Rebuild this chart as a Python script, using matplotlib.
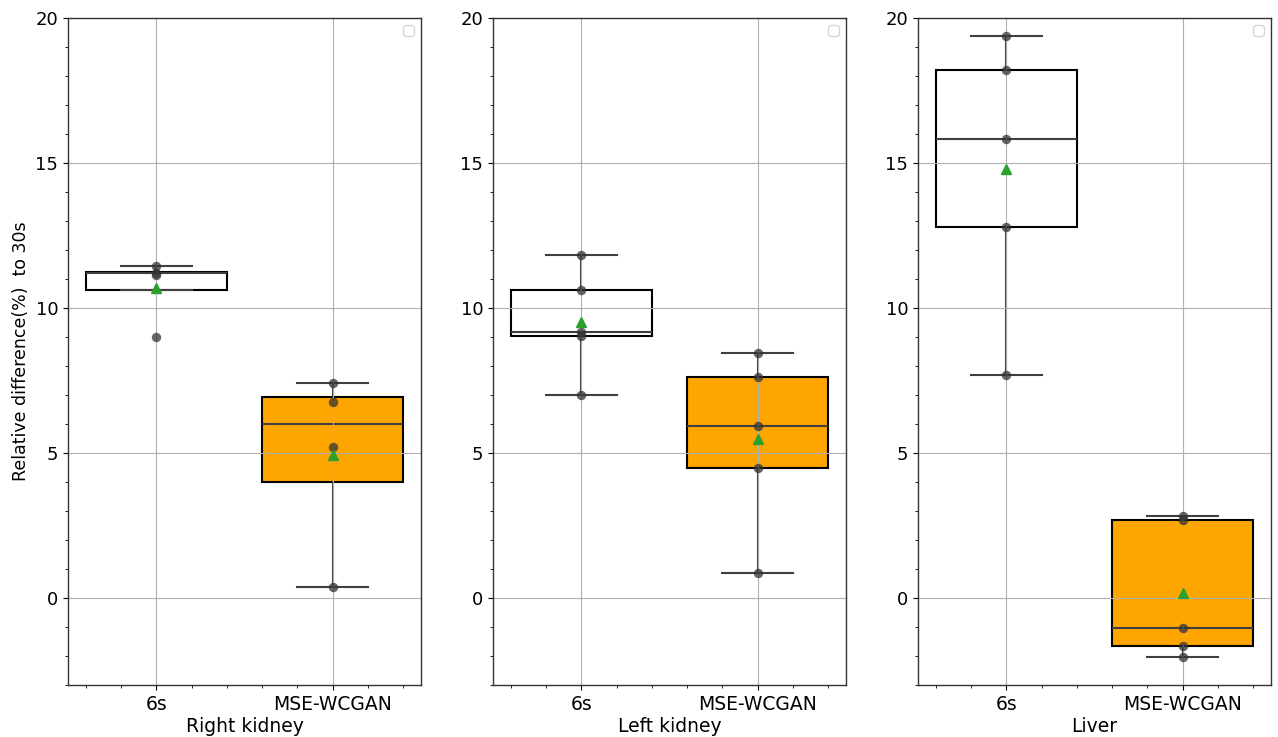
import numpy as np
import matplotlib
matplotlib.use("Agg")
import matplotlib.pyplot as plt
from matplotlib.ticker import AutoMinorLocator

# panels and groups
organs = ["Right kidney", "Left kidney", "Liver"]
methods = ["6s", "MSE-WCGAN"]

# box statistics per panel, [6s, MSE-WCGAN]
whis_lo = [[10.62, 0.37], [6.99, 0.85], [7.69, -2.02]]
q1 = [[10.62, 4.01], [9.02, 4.47], [12.79, -1.64]]
med = [[11.20, 5.99], [9.17, 5.92], [15.82, -1.05]]
q3 = [[11.24, 6.92], [10.63, 7.63], [18.20, 2.69]]
whis_hi = [[11.45, 7.41], [11.84, 8.46], [19.38, 2.82]]
means = [[10.70, 4.94], [9.53, 5.47], [14.78, 0.16]]

# individual points (strip)
pts_6s = [[9.00, 11.15, 11.22, 11.45],
          [6.99, 9.02, 9.17, 10.63, 11.84],
          [7.69, 12.79, 15.82, 18.20, 19.38]]
pts_gan = [[0.37, 5.22, 6.75, 7.41],
           [0.85, 4.47, 5.92, 7.63, 8.46],
           [-2.02, -1.64, -1.05, 2.69, 2.82]]

box_colors = ["white", "orange"]

fig = plt.figure(figsize=(12.78, 7.37), dpi=100)
lefts = [68, 493, 918]

for i, organ in enumerate(organs):
    ax = fig.add_axes([lefts[i] / 1278, 52 / 737, 353 / 1278, 667 / 737])
    stats = []
    for j, m in enumerate(methods):
        stats.append(dict(label=m, whislo=whis_lo[i][j], q1=q1[i][j], med=med[i][j],
                          q3=q3[i][j], whishi=whis_hi[i][j], mean=means[i][j], fliers=[]))
    bp = ax.bxp(stats, positions=[0, 1], widths=0.8, patch_artist=True,
                showmeans=True, showfliers=False,
                boxprops=dict(edgecolor="black", linewidth=1.5),
                whiskerprops=dict(color="#3f3f3f", linewidth=1.5),
                capprops=dict(color="#3f3f3f", linewidth=1.5),
                medianprops=dict(color="#3f3f3f", linewidth=1.5),
                meanprops=dict(marker="^", markerfacecolor="#2ca02c",
                               markeredgecolor="#2ca02c", markersize=7),
                capwidths=0.4)
    for patch, c in zip(bp["boxes"], box_colors):
        patch.set_facecolor(c)
    for j, pts in enumerate([pts_6s[i], pts_gan[i]]):
        ax.scatter(np.full(len(pts), j), pts, s=46, color="#333333", alpha=0.75,
                   zorder=3, linewidths=0)
    for mk in bp["means"]:
        mk.set_zorder(4)

    ax.set_xlim(-0.5, 1.5)
    ax.set_ylim(-3, 20)
    ax.set_yticks([0, 5, 10, 15, 20])
    ax.set_xticks([0, 1])
    ax.set_xticklabels(methods)
    ax.xaxis.set_minor_locator(AutoMinorLocator(5))
    ax.yaxis.set_minor_locator(AutoMinorLocator(5))
    ax.set_axisbelow(False)
    ax.grid(True, which="major", color="#b0b0b0", linewidth=0.8)
    for sp in ax.spines.values():
        sp.set_color("#333333")
        sp.set_linewidth(1.0)
        sp.set_zorder(5)
    ax.tick_params(axis="y", labelsize=13)
    ax.tick_params(axis="x", labelsize=13.5)
    ax.set_xlabel(organ, fontsize=13.5, labelpad=2)
    if i == 0:
        ax.set_ylabel("Relative difference(%)  to 30s", fontsize=12.5)
    ax.legend(handles=[], loc="upper right")

fig.savefig("out.png", dpi=100)
